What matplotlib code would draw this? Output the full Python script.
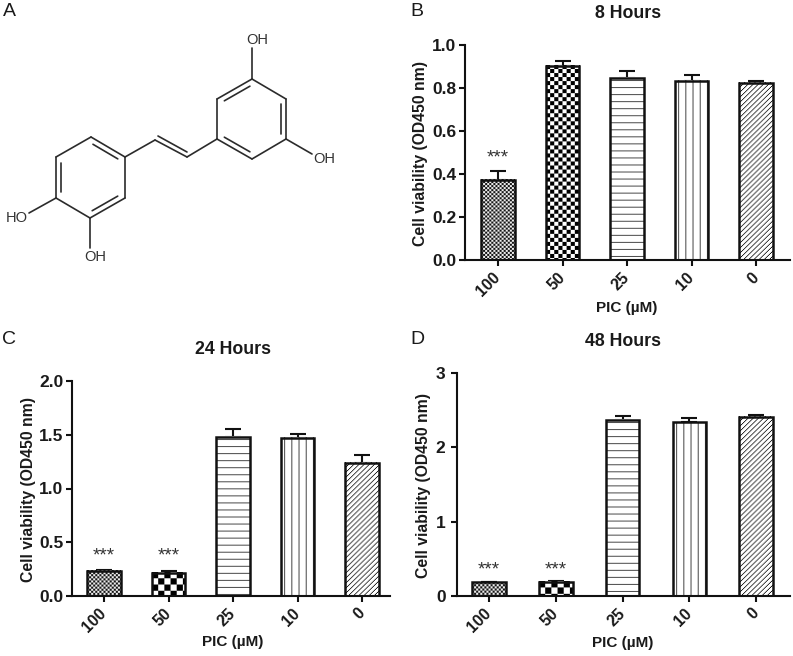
import numpy as np
import matplotlib
matplotlib.use("Agg")
import matplotlib.pyplot as plt
from matplotlib.transforms import ScaledTranslation

W, H = 793, 656
plt.rcParams["font.family"] = ["Liberation Sans", "DejaVu Sans"]

doses = ["100", "50", "25", "10", "0"]
kinds = ["fine", "check", "hlines", "vlines", "diag"]
xlabel_txt = "PIC (µM)"
ylabel_txt = "Cell viability (OD450 nm)"

# bar heights and top of the error bar
means_8h = [0.373, 0.902, 0.847, 0.833, 0.825]
tops_8h = [0.415, 0.924, 0.878, 0.859, 0.833]
means_24h = [0.233, 0.217, 1.482, 1.473, 1.240]
tops_24h = [0.245, 0.233, 1.550, 1.510, 1.309]
means_48h = [0.184, 0.193, 2.370, 2.335, 2.410]
tops_48h = [0.190, 0.205, 2.420, 2.400, 2.435]

stars_8h = {0: 0.476}
stars_24h = {0: 0.37, 1: 0.37}
stars_48h = {0: 0.345, 1: 0.345}

yticks_8h = [0.0, 0.2, 0.4, 0.6, 0.8, 1.0]
yticks_24h = [0.0, 0.5, 1.0, 1.5, 2.0]
yticks_48h = [0, 1, 2, 3]

# molecule of panel A, pixel positions on the figure
atom_x = [91, 125, 125, 90, 56, 56, 155, 187, 217, 217, 252, 286, 286, 252, 252, 312, 29, 90]
atom_y = [137, 157, 198, 218, 198, 157, 140, 157, 139, 99, 79, 99, 139, 159, 48, 154, 213, 248]
bonds = [(0, 1), (1, 2), (2, 3), (3, 4), (4, 5), (5, 0), (1, 6), (6, 7), (7, 8), (8, 9),
         (9, 10), (10, 11), (11, 12), (12, 13), (13, 8), (10, 14), (12, 15), (4, 16), (3, 17)]
inner_bonds = [(0, 1), (2, 3), (4, 5), (8, 13), (9, 10), (11, 12)]
ring_a = (90.5, 177.5)
ring_b = (252, 119)
atom_labels = [("OH", 257, 40), ("OH", 324, 159), ("HO", 17, 218), ("OH", 95, 257)]


def pattern(kind, nx, ny):
    i, j = np.indices((ny, nx))
    if kind == "fine":
        return ((i // 2 + j // 2) % 2) * 0.85 + 0.08
    if kind == "check":
        return ((i // 4 + j // 4) % 2).astype(float)
    if kind == "check_big":
        return ((i // 6 + j // 6) % 2).astype(float)
    if kind == "hlines":
        return (i % 7 != 3) * 0.7 + 0.3
    if kind == "vlines":
        return (j % 7 != 3) * 0.7 + 0.3
    return ((i + j) % 5 > 0) * 1.0


def panel(box, xt0, dx, ymax, yticks, ylabels, means, tops, stars, pats, ypad=2):
    x0, x1, ytop, ybot = box
    ax = fig.add_axes([x0 / W, 1 - ybot / H, (x1 - x0) / W, (ybot - ytop) / H])
    ax.set_xlim((x0 - xt0) / dx, (x1 - xt0) / dx)
    ax.set_ylim(0, ymax)
    ax.set_autoscale_on(False)
    width = 33.5 / dx
    for n in range(len(doses)):
        px_w = int(33.5)
        px_h = max(int(means[n] / ymax * (ybot - ytop)), 1)
        ax.imshow(pattern(pats[n], px_w, px_h), cmap="gray", vmin=0, vmax=1, aspect="auto",
                  extent=(n - width / 2, n + width / 2, 0, means[n]),
                  interpolation="bilinear", zorder=2)
    ax.errorbar(range(len(doses)), means,
                yerr=[np.zeros(len(means)), np.array(tops) - np.array(means)],
                fmt="none", ecolor="#111111", elinewidth=1.5, capsize=6, capthick=1.5, zorder=1)
    ax.bar(range(len(doses)), means, width=width, facecolor="none", edgecolor="#111111",
           linewidth=1.8, zorder=3)
    for n, y in stars.items():
        ax.text(n, y, "***", ha="center", va="center", fontsize=13.5, color="#333333")
    for s in ["top", "right"]:
        ax.spines[s].set_visible(False)
    for s in ["left", "bottom"]:
        ax.spines[s].set_linewidth(1.5)
        ax.spines[s].set_color("#111111")
    ax.set_xticks(range(len(doses)))
    ax.set_xticklabels(doses, rotation=45, ha="right", va="center", rotation_mode="anchor",
                       fontsize=11.5, fontweight="bold", color="#1a1a1a")
    off = ScaledTranslation(5 / 100, 0, fig.dpi_scale_trans)
    for t in ax.get_xticklabels():
        t.set_transform(t.get_transform() + off)
    ax.set_yticks(yticks)
    ax.set_yticklabels(ylabels, fontsize=12.5, fontweight="bold", color="#1a1a1a")
    ax.tick_params(axis="both", length=4.2, width=1.5, color="#111111")
    ax.tick_params(axis="x", pad=6.5)
    ax.tick_params(axis="y", pad=ypad)
    return ax


def px_text(x, y, s, **kw):
    kw.setdefault("ha", "center")
    kw.setdefault("va", "center")
    kw.setdefault("color", "#1a1a1a")
    fig.text(x / W, 1 - y / H, s, **kw)


def px_line(xs, ys):
    fig.add_artist(plt.Line2D([x / W for x in xs], [1 - y / H for y in ys], color="#2b2b2b",
                              linewidth=1.2, solid_capstyle="round"))


fig = plt.figure(figsize=(W / 100, H / 100), dpi=100)

panel((465, 790, 45, 260.3), 498, 64.5, 1.0, yticks_8h, [f"{v:.1f}" for v in yticks_8h],
      means_8h, tops_8h, stars_8h, kinds)
panel((72, 390, 381, 596), 104, 64.5, 2.0, yticks_24h, [f"{v:.1f}" for v in yticks_24h],
      means_24h, tops_24h, stars_24h, ["fine", "check_big", "hlines", "vlines", "diag"])
panel((457, 790, 373, 596), 489, 66.75, 3, yticks_48h, [str(v) for v in yticks_48h],
      means_48h, tops_48h, stars_48h, ["fine", "check_big", "hlines", "vlines", "diag"], ypad=4)

# titles and axis labels
for x, y, s in [(628, 13, "8 Hours"), (233, 350, "24 Hours"), (623, 341, "48 Hours")]:
    px_text(x, y, s, fontsize=12.8, fontweight="bold")
for x, y in [(627, 308), (233, 642), (623, 643)]:
    px_text(x, y, xlabel_txt, fontsize=11, fontweight="bold")
for x, y in [(421, 154), (28, 489), (423, 485)]:
    px_text(x, y, ylabel_txt, fontsize=11.3, fontweight="bold", rotation=90)
for x, y, s in [(9, 11, "A"), (417, 11, "B"), (9, 340, "C"), (417, 340, "D")]:
    px_text(x, y, s, fontsize=14)

# panel A
for a, b in bonds:
    px_line([atom_x[a], atom_x[b]], [atom_y[a], atom_y[b]])
for a, b in inner_bonds:
    c = ring_a if a < 6 else ring_b
    ax_, ay_ = atom_x[a], atom_y[a]
    bx_, by_ = atom_x[b], atom_y[b]
    # second line of the double bond, pulled towards the middle of the ring
    px_line([ax_ + (c[0] - ax_) * 0.15 + (bx_ - ax_) * 0.06, bx_ + (c[0] - bx_) * 0.15 - (bx_ - ax_) * 0.06],
            [ay_ + (c[1] - ay_) * 0.15 + (by_ - ay_) * 0.06, by_ + (c[1] - by_) * 0.15 - (by_ - ay_) * 0.06])
px_line([158, 187], [136, 152])
for s, x, y in atom_labels:
    px_text(x, y, s, fontsize=10.5, color="#333333")

fig.savefig("out.png", dpi=100)
